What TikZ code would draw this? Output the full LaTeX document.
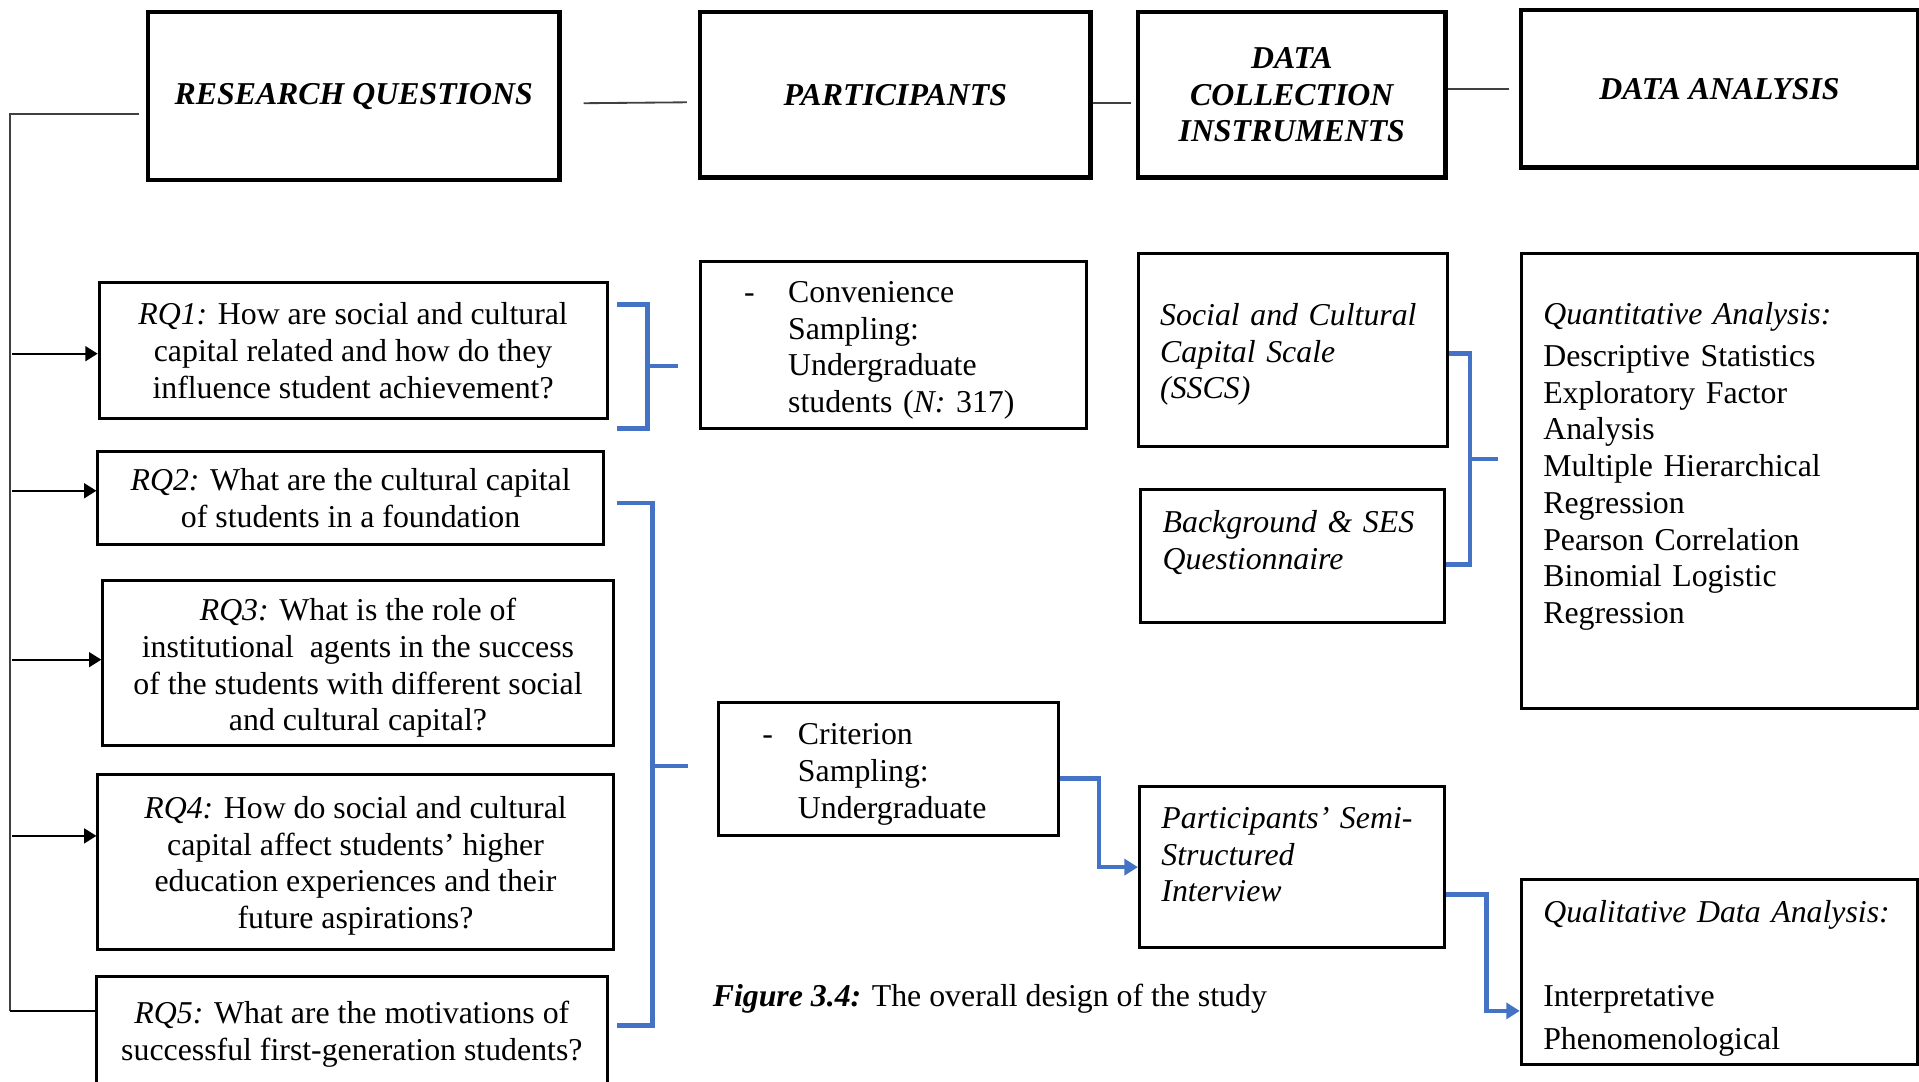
\documentclass[tikz,border=0pt]{standalone}
\usepackage{fontspec}
\setmainfont{Liberation Serif}
\usetikzlibrary{arrows.meta,calc}
\definecolor{wordblue}{HTML}{4472C4}
\newcommand{\figfont}{\fontsize{13}{15}\selectfont}
\newcommand{\sink}[1]{\rule[-#1]{0pt}{#1}}
\newcommand{\lift}[1]{\rule{0pt}{#1}}

\begin{document}
\begin{tikzpicture}[
  x=0.5pt, y=-0.5pt,
  font=\figfont,
  headbox/.style={draw, line width=1.8pt, align=center, font=\figfont\bfseries\itshape},
  rqbox/.style={draw, line width=1.2pt, align=center},
  listbox/.style={draw, line width=1.2pt, align=left, inner xsep=9pt, inner ysep=0pt},
  toolbox/.style={listbox, font=\figfont\itshape},
  link/.style={draw=black!75, line width=0.75pt},
  arr/.style={-{Triangle[length=5pt,width=6pt]}, line width=0.9pt},
  bracket/.style={draw=wordblue, line width=1.9pt},
  barr/.style={bracket, -{Triangle[length=5.5pt,width=6.5pt]}}
]
\useasboundingbox (0,0) rectangle (1568,884);

% column headers
\node[headbox, minimum width=168pt, minimum height=68.5pt] (rqhead) at (289,78.5) {RESEARCH QUESTIONS};
\node[headbox, minimum width=159.5pt, minimum height=67.5pt] (parthead) at (731.5,77.5) {PARTICIPANTS};
\node[headbox, minimum width=125.5pt, minimum height=67.5pt] (colhead) at (1055.5,77.5) {DATA\\COLLECTION\\INSTRUMENTS};
\node[headbox, minimum width=162pt, minimum height=64.5pt] (anahead) at (1405,72.5) {DATA ANALYSIS};

% research questions
\node[rqbox, minimum width=207.5pt, minimum height=55.5pt] (rq1) at (288.5,286.5)
  {\textit{RQ1:} How are social and cultural\\capital related and how do they\\influence student achievement?};
\node[rqbox, minimum width=206.5pt, minimum height=38pt] (rq2) at (286.5,407)
  {\textit{RQ2:} What are the cultural capital\\of students in a foundation};
\node[rqbox, minimum width=208.5pt, minimum height=67pt] (rq3) at (292.5,542)
  {\lift{13pt}\textit{RQ3:} What is the role of\\institutional\ \ agents in the success\\of the students with different social\\and cultural capital?};
\node[rqbox, minimum width=210.5pt, minimum height=71.5pt] (rq4) at (290.5,704.5)
  {\lift{12pt}\textit{RQ4:} How do social and cultural\\capital affect students' higher\\education experiences and their\\future aspirations?};
\node[rqbox, minimum width=208.5pt, minimum height=47pt] (rq5) at (287.5,845)
  {\textit{RQ5:} What are the motivations of\\successful first-generation students?};

% participants
\node[listbox, inner xsep=18pt, text width=122pt, minimum height=68pt] (conv) at (730,282)
  {\begin{tabular}{@{}p{18pt}@{}l@{}}\lift{14.5pt}- & Convenience\\ & Sampling:\\ & Undergraduate\\ & students (\textit{N:} 317)\end{tabular}};
\node[listbox, inner xsep=18pt, text width=103pt, minimum height=54.5pt] (crit) at (726,628.5)
  {\begin{tabular}{@{}p{14.5pt}@{}l@{}}\lift{14.5pt}- & Criterion\\ & Sampling:\\ & Undergraduate\end{tabular}};

% instruments
\node[toolbox, text width=108.5pt, minimum height=79pt] (sscs) at (1056.5,286)
  {\begin{tabular}{@{}l@{}}\lift{14.5pt}Social and Cultural\\Capital Scale\\(SSCS)\end{tabular}};
\node[toolbox, text width=106pt, minimum height=54.5pt] (bgq) at (1056,454.5)
  {\begin{tabular}{@{}l@{}}Background \& SES\\Questionnaire\sink{15pt}\end{tabular}};
\node[toolbox, text width=106.5pt, minimum height=65.5pt] (interview) at (1055.5,708.5)
  {\begin{tabular}{@{}l@{}}Participants' Semi-\\Structured\\Interview\sink{12pt}\end{tabular}};

% analysis
\node[listbox, text width=144pt, minimum height=186pt] (quant) at (1405,393)
  {\begin{tabular}{@{}l@{}}\textit{Quantitative Analysis:}\\[2pt]Descriptive Statistics\\Exploratory Factor\\Analysis\\Multiple Hierarchical\\Regression\\Pearson Correlation\\Binomial Logistic\\Regression\sink{16pt}\end{tabular}};
\node[listbox, text width=144pt, minimum height=75.5pt, font=\fontsize{13}{17.3}\selectfont] (qual) at (1405,794.5)
  {\begin{tabular}{@{}l@{}}\lift{16.1pt}\textit{Qualitative Data Analysis:}\\ \\Interpretative\\Phenomenological\end{tabular}};

\node[anchor=west, inner sep=0pt] (caption) at (582,816)
  {\textbf{\textit{Figure 3.4:}} The overall design of the study};

% header links
\draw[link, shorten <=9pt, shorten >=4.5pt] ([yshift=-3pt]rqhead.east) -- ([yshift=-3pt]parthead.west);
\draw[link, shorten >=2pt] ([yshift=-3.25pt]parthead.east) -- ([yshift=-3.25pt]colhead.west);
\draw[link, shorten >=4pt] (colhead.east |- anahead.west) -- (anahead.west);

% spine to the questions
\coordinate (spine) at (8,93);
\coordinate (spinefoot) at (8,826);
\draw[link, shorten <=3pt] (rqhead.west |- spine) -- (spine) -- (spinefoot);
\foreach \q/\ty in {rq1/289, rq2/401, rq3/539, rq4/683}{
  \coordinate (tap) at (10,\ty);
  \draw[arr] (tap) -- (\q.west |- tap);
}
\draw[line width=0.9pt] (spinefoot) -- (rq5.west |- spinefoot);

% blue brackets
\coordinate (br1) at (529,299);
\draw[bracket] ([xshift=3.5pt,yshift=18.75pt]rq1.east) -| (br1) |- ([xshift=3.5pt,yshift=-31.75pt]rq1.east);
\draw[bracket, shorten >=8.5pt] (br1) -- (br1 -| conv.west);

\coordinate (br2) at (533,626);
\draw[bracket] ([xshift=5pt,yshift=-2pt]rq2.east) -| (br2) |- ([xshift=3.5pt,yshift=3.5pt]rq5.east);
\draw[bracket, shorten >=12pt] (br2) -- (br2 -| crit.west);

\coordinate (br3) at (1201,375);
\draw[bracket] ([yshift=-1.5pt]sscs.east) -| (br3) |- ([yshift=-3.25pt]bgq.east);
\draw[bracket, shorten >=9pt] (br3) -- (br3 -| quant.west);

% blue elbows
\draw[barr] ([yshift=-3.75pt]crit.east) -| ($(crit.east)!0.5!(interview.west)$) |- (interview.west);
\draw[barr] ([yshift=-11.25pt]interview.east) -| ($(interview.east)!0.55!(qual.west)$) |- ([yshift=-15.75pt]qual.west);
\end{tikzpicture}
\end{document}
